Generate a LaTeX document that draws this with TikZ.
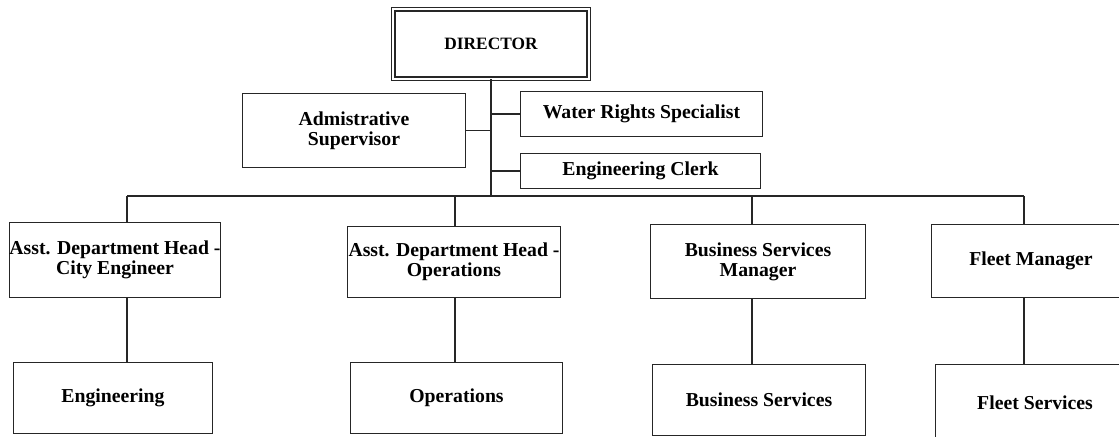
\documentclass[tikz,border=0pt]{standalone}
\usepackage{fontspec}
\setmainfont{Liberation Serif}
\begin{document}
\begin{tikzpicture}[x=0.75pt,y=-0.75pt,
  box/.style={draw=black!85,line width=1pt,align=center,inner sep=0pt,
    font=\bfseries\fontsize{14.8}{15.2}\selectfont},
  dirbox/.style={box,double,line width=0.9pt,double distance=1.6pt},
  link/.style={draw=black!85,line width=1pt}]
\useasboundingbox (0,0) rectangle (1119,436);
\node[dirbox,minimum width=146.5pt,minimum height=52pt,font=\bfseries\fontsize{13}{14}\selectfont] (dir) at (491,44) {DIRECTOR};
\node[box,minimum width=167pt,minimum height=55.5pt] (adm) at (354,130.5) {Admistrative\\Supervisor};
\node[box,minimum width=181.5pt,minimum height=33.7pt] (wrs) at (641.5,114) {Water Rights Specialist};
\node[box,minimum width=180pt,minimum height=26.2pt] (clerk) at (640.5,171) {Engineering Clerk};
\node[box,minimum width=158.2pt,minimum height=56.2pt] (ace) at (115,260) {Asst. Department Head -\\City Engineer};
\node[box,minimum width=159.7pt,minimum height=53.2pt] (aop) at (454,262) {Asst. Department Head -\\Operations};
\node[box,minimum width=161.2pt,minimum height=55.5pt] (bsm) at (758,261.5) {Business Services\\Manager};
\node[box,minimum width=149.2pt,minimum height=54.7pt] (flm) at (1031,261) {Fleet Manager};
\node[box,minimum width=149.2pt,minimum height=53.2pt] (eng) at (113,398) {Engineering};
\node[box,minimum width=159pt,minimum height=53.2pt] (ops) at (456.5,398) {Operations};
\node[box,minimum width=159.7pt,minimum height=53.2pt] (bs) at (759,400) {Business Services};
\node[box,minimum width=149.2pt,minimum height=57.7pt] (fs) at (1035,403) {Fleet Services};
\coordinate (d1) at (127,196);
\coordinate (d2) at (455,196);
\coordinate (d3) at (752,196);
\coordinate (d4) at (1024,196);
\draw[link] (dir.south) -- (dir.south |- d1);
\draw[link] (d1) -- (d4);
\draw[link] (adm.east) -- (adm.east -| dir.south);
\draw[link] (wrs.west) -- (wrs.west -| dir.south);
\draw[link] (clerk.west) -- (clerk.west -| dir.south);
\foreach \d/\u/\v in {d1/ace/eng,d2/aop/ops,d3/bsm/bs,d4/flm/fs}{
  \draw[link] (\d) -- (\d |- \u.north);
  \draw[link] (\d |- \u.south) -- (\d |- \v.north);
}
\end{tikzpicture}
\end{document}
